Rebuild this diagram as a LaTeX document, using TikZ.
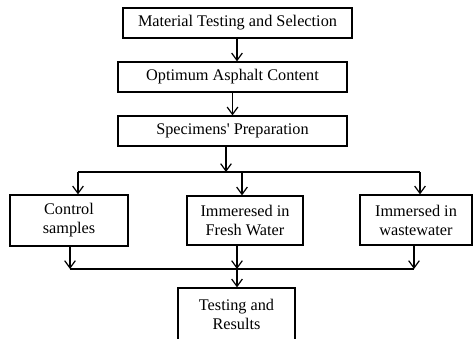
\documentclass[tikz,border=0pt]{standalone}
\usepackage{fontspec}
\setmainfont{Liberation Serif}
\usetikzlibrary{arrows.meta, positioning, calc}

\begin{document}
\begin{tikzpicture}[
  x=0.75pt, y=-0.75pt,
  >={Straight Barb[length=5.5pt,width=8pt]},
  stage/.style={draw, line width=0.9pt, align=center, inner sep=2pt,
    font=\fontsize{12.2}{14.25}\selectfont},
  flow/.style={draw, line width=0.9pt, ->},
  link/.style={draw, line width=0.9pt}
  ]
  \clip (0,0) rectangle (473,338);
  % main sequence
  \node[stage, minimum width=171.75pt, minimum height=22.5pt] (mts) at (237.5,23) {Material Testing and Selection};
  \node[stage, minimum width=171.75pt, minimum height=22.5pt] (oac) at (232.5,77) {Optimum Asphalt Content};
  \node[stage, minimum width=171.75pt, minimum height=22.5pt] (spp) at (232.5,131) {Specimens\textquotesingle{} Preparation};
  % three treatments
  \node[stage, minimum width=88.5pt, minimum height=38.25pt] (ctl) at (69,220.5) {Control\\samples};
  \node[stage, minimum width=87pt, minimum height=36.75pt] (frw) at (245,220.5) {Immeresed in\\Fresh Water};
  \node[stage, minimum width=84pt, minimum height=37.5pt] (wsw) at (416,220) {Immersed in\\wastewater};
  \node[stage, minimum width=87.75pt, minimum height=39pt] (tst) at (236.5,314) {Testing and\\Results};
  % branching points
  \coordinate (split) at (226,172);
  \coordinate (sl) at (78,172);
  \coordinate (sm) at (242,172);
  \coordinate (sr) at (420,172);
  \coordinate (jl) at (70,269);
  \coordinate (jm) at (237,269);
  \coordinate (jr) at (414,269);
  \draw[flow] ($(mts.south)+(-0.5,0)$) -- ($(mts.south |- oac.north)+(-0.5,0)$);
  \draw[flow] (oac.south) -- (spp.north);
  \draw[flow] (spp.south -| split) -- (split);
  \draw[link] (sl) -- (sr);
  \draw[flow] (sl) -- (sl |- ctl.north);
  \draw[flow] (sm) -- (sm |- frw.north);
  \draw[flow] (sr) -- (sr |- wsw.north);
  \draw[flow] (jl |- ctl.south) -- (jl);
  \draw[flow] (jm |- frw.south) -- (jm);
  \draw[flow] (jr |- wsw.south) -- (jr);
  \draw[link] (jl) -- (jr);
  \draw[flow] (jm) -- (jm |- tst.north);
\end{tikzpicture}
\end{document}
